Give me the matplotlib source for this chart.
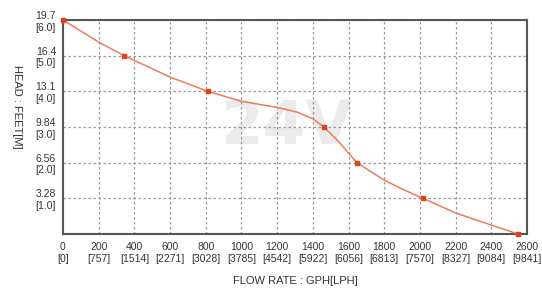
import matplotlib
matplotlib.use("Agg")
import matplotlib.pyplot as plt

# pump curve (flow in GPH, head in metres)
curve_gph = [0, 200, 342, 600, 812, 1000, 1200, 1310, 1400, 1462, 1535, 1600,
             1647, 1800, 1888, 2017, 2200, 2400, 2550]
curve_m = [6.0, 5.38, 5.0, 4.40, 4.0, 3.72, 3.55, 3.42, 3.23, 3.0, 2.64, 2.27,
           2.0, 1.51, 1.29, 1.0, 0.59, 0.25, 0.0]

point_gph = [0, 342, 812, 1462, 1647, 2017, 2550]
point_m = [6.0, 5.0, 4.0, 3.0, 2.0, 1.0, 0.0]

x_gph = [0, 200, 400, 600, 800, 1000, 1200, 1400, 1600, 1800, 2000, 2200, 2400, 2600]
x_lph = [0, 757, 1514, 2271, 3028, 3785, 4542, 5922, 6056, 6813, 7570, 8327, 9084, 9841]
y_m = [0, 1, 2, 3, 4, 5, 6]
y_feet = ["", "3.28", "6.56", "9.84", "13.1", "16.4", "19.7"]

plt.rcParams['font.family'] = ['Liberation Sans', 'DejaVu Sans']

fig = plt.figure(figsize=(5.42, 2.92), dpi=100)
ax = fig.add_axes([63/542, 1 - 234/292, 464/542, 214/292])

ax.text(1250, 3.0, "24V", fontsize=44, fontweight='bold', color='#ebebeb',
        family='DejaVu Sans', ha='center', va='center', zorder=0)

ax.plot(curve_gph, curve_m, color='#f07a5a', lw=1.1, zorder=3)
ax.plot(point_gph, point_m, ls='none', marker='s', ms=2.6, color='#e0401c',
        zorder=4, clip_on=False)

ax.set_xlim(0, 2600)
ax.set_ylim(0, 6)
ax.set_xticks(x_gph)
ax.set_xticklabels(["%d\n[%d]" % (g, l) for g, l in zip(x_gph, x_lph)])
ax.set_yticks(y_m)
ax.set_yticklabels([f if f == "" else "%s\n[%.1f]" % (f, m) for f, m in zip(y_feet, y_m)])
ax.tick_params(length=0, labelsize=7.5, labelcolor='#333333', pad=5)
ax.tick_params(axis='x', pad=6)
for lbl in ax.get_xticklabels() + ax.get_yticklabels():
    lbl.set_multialignment('center')

ax.grid(True, color='#999999', ls=(0, (2, 2)), lw=0.9)
ax.set_axisbelow(True)
for s in ax.spines.values():
    s.set_color('#555555')
    s.set_linewidth(1.5)

ax.set_xlabel("FLOW RATE : GPH[LPH]", fontsize=8, color='#333333', labelpad=9)
ax.set_ylabel("HEAD : FEET[M]", fontsize=8, color='#333333', rotation=-90)
ax.yaxis.set_label_coords(-0.11, 0.593)

fig.savefig("out.png", dpi=100)
